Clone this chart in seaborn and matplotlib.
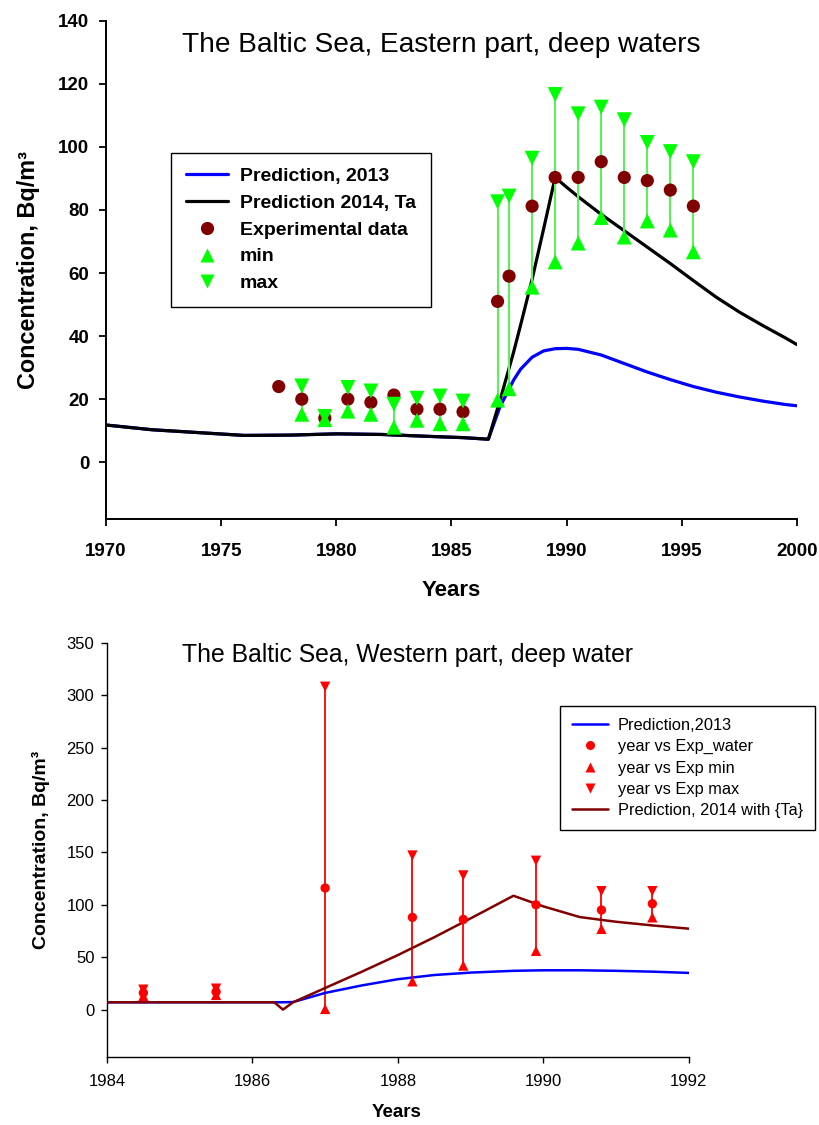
import matplotlib
matplotlib.use("Agg")
import matplotlib.pyplot as plt
from matplotlib.lines import Line2D
import seaborn as sns
import numpy as np
import pandas as pd

# ---------------- Top chart data (Eastern part) ----------------
east_exp_years = [1977.5, 1978.5, 1979.5, 1980.5, 1981.5, 1982.5, 1983.5, 1984.5, 1985.5,
                  1987.0, 1987.5, 1988.5, 1989.5, 1990.5, 1991.5, 1992.5, 1993.5, 1994.5, 1995.5]
east_exp = [24.0, 20.0, 14.0, 20.0, 19.0, 21.3, 16.8, 16.8, 16.0,
            51.0, 59.0, 81.2, 90.3, 90.3, 95.3, 90.3, 89.3, 86.3, 81.2]
east_min_years = [1978.5, 1979.5, 1980.5, 1981.5, 1982.5, 1983.5, 1984.5, 1985.5,
                  1987.0, 1987.5, 1988.5, 1989.5, 1990.5, 1991.5, 1992.5, 1993.5, 1994.5, 1995.5]
east_min = [15.2, 13.5, 16.2, 15.2, 11.1, 13.3, 12.2, 12.2,
            19.7, 23.3, 55.5, 63.5, 69.5, 77.6, 71.4, 76.5, 73.6, 66.7]
east_max = [24.2, 14.5, 23.7, 22.6, 18.4, 20.3, 21.0, 19.4,
            82.6, 84.4, 96.4, 116.6, 110.5, 112.6, 108.6, 101.4, 98.5, 95.3]

east_curve_years = [1970, 1972, 1974, 1976, 1978, 1980, 1982, 1984, 1985.5, 1986.6,
                    1987.1, 1987.7, 1988.0, 1988.5, 1989.0, 1989.5, 1990.0, 1990.5,
                    1991.5, 1992.5, 1993.5, 1994.5, 1995.5, 1996.5, 1997.5, 1998.5, 1999.5, 2000]
east_pred_2013 = [11.8, 10.3, 9.4, 8.5, 8.6, 9.0, 8.8, 8.2, 7.8, 7.3,
                  17.5, 26.1, 29.5, 33.3, 35.3, 36.0, 36.1, 35.8,
                  34.0, 31.3, 28.6, 26.2, 24.0, 22.2, 20.7, 19.4, 18.3, 17.9]
east_pred_2014 = [11.8, 10.3, 9.4, 8.5, 8.6, 9.0, 8.8, 8.2, 7.8, 7.3,
                  19.5, 35.0, 43.5, 58.0, 74.0, 90.3, 87.2, 84.2,
                  78.6, 73.4, 68.2, 63.0, 57.6, 52.3, 47.6, 43.4, 39.4, 37.3]

# ---------------- Bottom chart data (Western part) ----------------
west_exp_years = [1984.5, 1985.5, 1987.0, 1988.2, 1988.9, 1989.9, 1990.8, 1991.5]
west_exp = [16.0, 17.0, 116.0, 88.0, 86.0, 100.0, 95.0, 101.0]
west_min = [13.0, 14.0, 0.6, 27.0, 42.0, 56.0, 77.0, 88.0]
west_max = [19.0, 20.0, 308.0, 147.0, 128.0, 142.0, 113.0, 113.0]

west_curve_years = [1984, 1985, 1986, 1986.3, 1986.42, 1986.56, 1987.0, 1987.5, 1988.0,
                    1988.5, 1989.0, 1989.59, 1990.0, 1990.5, 1991.0, 1991.5, 1992.0]
west_pred_2013 = [7.0, 7.0, 7.0, 7.0, 7.0, 7.2, 15.9, 23.0, 29.0,
                  33.0, 35.3, 37.0, 37.5, 37.5, 37.0, 36.2, 35.0]
west_pred_2014 = [7.0, 7.0, 7.0, 7.0, 0.0, 7.0, 20.6, 36.0, 52.0,
                  69.0, 87.0, 108.6, 98.5, 88.3, 83.8, 80.3, 77.2]

east_ticks_x = [1970, 1975, 1980, 1985, 1990, 1995, 2000]
east_ticks_y = [0, 20, 40, 60, 80, 100, 120, 140]
west_ticks_x = [1984, 1986, 1988, 1990, 1992]
west_ticks_y = [0, 50, 100, 150, 200, 250, 300, 350]

# ---------------- Style ----------------
sns.set_style("ticks")
plt.rcParams['font.family'] = ['Liberation Sans', 'DejaVu Sans']
for k in ['text.color', 'axes.labelcolor', 'xtick.color', 'ytick.color', 'axes.edgecolor']:
    plt.rcParams[k] = 'black'

fig = plt.figure(figsize=(8.2, 11.25), dpi=100)

# ================= TOP =================
ax1 = fig.add_axes([106 / 820, 1 - 519 / 1125, 691 / 820, 498.3 / 1125])
GREEN = '#00ff00'
GREEN_LINE = '#5cf05c'
BROWN = '#800000'

curves_e = pd.DataFrame({'year': east_curve_years, 'p13': east_pred_2013, 'p14': east_pred_2014})
sns.lineplot(data=curves_e, x='year', y='p13', ax=ax1, color='#0000ff', lw=2.3,
             sort=False, estimator=None, zorder=2)
sns.lineplot(data=curves_e, x='year', y='p14', ax=ax1, color='black', lw=2.3,
             sort=False, estimator=None, zorder=3)
ax1.vlines(east_min_years, east_min, east_max, color=GREEN_LINE, lw=1.5, zorder=4)
sns.scatterplot(x=east_exp_years, y=east_exp, ax=ax1, marker='o', s=90, color=BROWN,
                edgecolor='none', zorder=5)
sns.scatterplot(x=east_min_years, y=east_min, ax=ax1, marker='^', s=115, color=GREEN,
                edgecolor='none', zorder=6)
sns.scatterplot(x=east_min_years, y=east_max, ax=ax1, marker='v', s=115, color=GREEN,
                edgecolor='none', zorder=6)

ax1.set_xlim(1970, 2000)
ax1.set_ylim(-18, 140)
ax1.set_xticks(east_ticks_x)
ax1.set_yticks(east_ticks_y)
ax1.tick_params(axis='both', direction='out', length=5, width=1.3, labelsize=13.5,
                colors='black')
for lab in ax1.get_xticklabels() + ax1.get_yticklabels():
    lab.set_fontweight('bold')
ax1.tick_params(axis='x', pad=12)
ax1.tick_params(axis='y', pad=7)
for sp in ['top', 'right']:
    ax1.spines[sp].set_visible(False)
for sp in ['left', 'bottom']:
    ax1.spines[sp].set_linewidth(1.4)
    ax1.spines[sp].set_color('black')

ax1.set_xlabel('Years', fontsize=16, fontweight='bold')
ax1.xaxis.set_label_coords(0.4993, -0.1425)
ax1.xaxis.label.set_verticalalignment('center')
ax1.set_ylabel('Concentration, Bq/m³', fontsize=16.8, fontweight='bold')
ax1.yaxis.set_label_coords(-0.112, 0.5)
ax1.yaxis.label.set_verticalalignment('center')

ax1.text(0.485, 0.951, 'The Baltic Sea, Eastern part, deep waters', transform=ax1.transAxes,
         ha='center', va='center', fontsize=20.2)

h1 = [Line2D([], [], color='#0000ff', lw=2.3),
      Line2D([], [], color='black', lw=2.3),
      Line2D([], [], ls='none', marker='o', ms=9.5, color=BROWN, mec='none'),
      Line2D([], [], ls='none', marker='^', ms=10.5, color=GREEN, mec='none'),
      Line2D([], [], ls='none', marker='v', ms=10.5, color=GREEN, mec='none')]
l1 = ['Prediction, 2013', 'Prediction 2014, Ta', 'Experimental data', 'min', 'max']
leg1 = ax1.legend(h1, l1, loc='upper left', bbox_to_anchor=(0.094, 0.7345), borderaxespad=0,
                  frameon=True, fancybox=False, shadow=False, handlelength=2.2,
                  labelspacing=0.47, borderpad=0.75, handletextpad=0.6,
                  prop={'weight': 'bold', 'size': 14})
leg1.get_frame().set_edgecolor('black')
leg1.get_frame().set_linewidth(1.0)
leg1.get_frame().set_alpha(1)

# ================= BOTTOM =================
ax2 = fig.add_axes([107 / 820, 1 - 1057.3 / 1125, 581.7 / 820, 414.6 / 1125])
RED = '#ff0000'
DARKRED = '#800000'

curves_w = pd.DataFrame({'year': west_curve_years, 'p13': west_pred_2013, 'p14': west_pred_2014})
ax2.vlines(west_exp_years, west_min, west_max, color=RED, lw=1.3, zorder=2)
sns.lineplot(data=curves_w, x='year', y='p13', ax=ax2, color='#0000ff', lw=1.8,
             sort=False, estimator=None, zorder=3)
sns.lineplot(data=curves_w, x='year', y='p14', ax=ax2, color=DARKRED, lw=1.8,
             sort=False, estimator=None, zorder=4)
sns.scatterplot(x=west_exp_years, y=west_exp, ax=ax2, marker='o', s=45, color=RED,
                edgecolor='none', zorder=5)
sns.scatterplot(x=west_exp_years, y=west_min, ax=ax2, marker='^', s=55, color=RED,
                edgecolor='none', zorder=5)
sns.scatterplot(x=west_exp_years, y=west_max, ax=ax2, marker='v', s=55, color=RED,
                edgecolor='none', zorder=5)

ax2.set_xlim(1984, 1992)
ax2.set_ylim(-45.5, 350)
ax2.set_xticks(west_ticks_x)
ax2.set_yticks(west_ticks_y)
ax2.tick_params(axis='both', direction='out', length=4, width=1.0, labelsize=12,
                colors='black')
ax2.tick_params(axis='x', pad=8)
ax2.tick_params(axis='y', pad=5)
for sp in ['top', 'right']:
    ax2.spines[sp].set_visible(False)
for sp in ['left', 'bottom']:
    ax2.spines[sp].set_linewidth(1.0)
    ax2.spines[sp].set_color('black')

ax2.set_xlabel('Years', fontsize=13.5, fontweight='bold')
ax2.xaxis.set_label_coords(0.4985, -0.134)
ax2.xaxis.label.set_verticalalignment('center')
ax2.set_ylabel('Concentration, Bq/m³', fontsize=14, fontweight='bold')
ax2.yaxis.set_label_coords(-0.114, 0.5)
ax2.yaxis.label.set_verticalalignment('center')

ax2.text(0.516, 0.971, 'The Baltic Sea, Western part, deep water', transform=ax2.transAxes,
         ha='center', va='center', fontsize=17.8)

h2 = [Line2D([], [], color='#0000ff', lw=1.8),
      Line2D([], [], ls='none', marker='o', ms=6.5, color=RED, mec='none'),
      Line2D([], [], ls='none', marker='^', ms=7.5, color=RED, mec='none'),
      Line2D([], [], ls='none', marker='v', ms=7.5, color=RED, mec='none'),
      Line2D([], [], color=DARKRED, lw=1.8)]
l2 = ['Prediction,2013', 'year vs Exp_water', 'year vs Exp min', 'year vs Exp max',
      'Prediction, 2014 with {Ta}']
leg2 = ax2.legend(h2, l2, loc='upper left', bbox_to_anchor=(0.779, 0.847), borderaxespad=0,
                  frameon=True, fancybox=False, shadow=False, handlelength=2.2,
                  labelspacing=0.38, borderpad=0.72, handletextpad=0.6,
                  prop={'size': 11.8})
leg2.get_frame().set_edgecolor('black')
leg2.get_frame().set_linewidth(1.0)
leg2.get_frame().set_alpha(1)
leg2.set_zorder(10)

fig.savefig('out.png', dpi=100, facecolor='white')
